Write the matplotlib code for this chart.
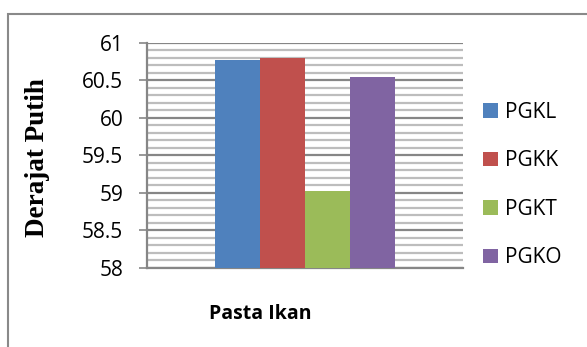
import numpy as np
import matplotlib
matplotlib.use("Agg")
import matplotlib.pyplot as plt
from matplotlib.patches import Rectangle

## data
series = ['PGKL', 'PGKK', 'PGKT', 'PGKO']
values = [60.77, 60.80, 59.03, 60.55]
colors = ['#4F81BD', '#C0504D', '#9BBB59', '#8064A2']
yticks = [58, 58.5, 59, 59.5, 60, 60.5, 61]
ytick_labels = ['58', '58.5', '59', '59.5', '60', '60.5', '61']

plt.rcParams['font.family'] = ['Open Sans', 'DejaVu Sans']

fig = plt.figure(figsize=(5.87, 3.47), dpi=100)
ax = fig.add_axes([0.2504, 0.2277, 0.5384, 0.6484])

w = 0.143
offsets = (np.arange(len(series)) - 1.5) * w
for off, v, c, name in zip(offsets, values, colors, series):
    ax.bar(off, v - 58, width=w, bottom=58, color=c, label=name, zorder=3)

ax.set_xlim(-0.5, 0.5)
ax.set_ylim(58, 61)
ax.set_xticks([])
ax.set_yticks(yticks)
ax.set_yticklabels(ytick_labels, fontsize=15)
ax.set_yticks(np.arange(58, 61.01, 0.1), minor=True)
ax.tick_params(axis='y', which='major', length=6, width=1.2, color='#868686', pad=11)
ax.tick_params(axis='y', which='minor', length=0)

ax.grid(axis='y', which='minor', color='#bdbdbd', lw=1.6, zorder=0)
ax.grid(axis='y', which='major', color='#868686', lw=1.6, zorder=1)
ax.set_axisbelow(True)

for s in ['top', 'right']:
    ax.spines[s].set_visible(False)
for s in ['left', 'bottom']:
    ax.spines[s].set_color('#868686')
    ax.spines[s].set_linewidth(1.6)

fig.text(38/587, 1 - 158/347, 'Derajat Putih', rotation=90, ha='center', va='center',
         family='Liberation Serif', fontweight='bold', fontsize=19.5)
fig.text(260/587, 1 - 314/347, 'Pasta Ikan', ha='center', va='center',
         fontweight='bold', fontsize=14)

fig.legend(loc='center left', bbox_to_anchor=(473/587, 1 - 185/347), frameon=False,
           fontsize=15, handlelength=0.7, handleheight=0.7, handletextpad=0.35,
           labelspacing=1.32, borderpad=0)

# outer chart border (only top and left edges are inside the picture)
fig.add_artist(Rectangle((8/587, -0.1), 2, 1.1 - 14/347, transform=fig.transFigure,
                         fill=False, edgecolor='#898989', lw=1.5))

fig.savefig('out.png', dpi=100)
